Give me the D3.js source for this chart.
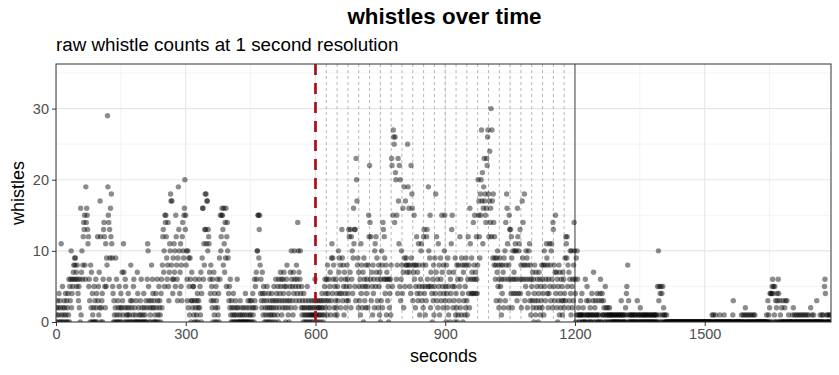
<!DOCTYPE html>
<html><head><meta charset="utf-8">
<script src="https://cdn.jsdelivr.net/npm/d3@7"></script>
<style>
html,body{margin:0;padding:0;background:#fff;}
svg text{font-family:"Liberation Sans",Arial,Helvetica,sans-serif;}
</style></head><body>
<svg id="chart" width="839" height="375"></svg>
<script>
const titleText = "whistles over time";
const subtitleText = "raw whistle counts at 1 second resolution";
const xLabel = "seconds";
const yLabel = "whistles";
const xTicks = [0, 300, 600, 900, 1200, 1500];
const xMinor = [150, 450, 750, 1050, 1350, 1650];
const yTicks = [0, 10, 20, 30];
const yMinor = [5, 15, 25, 35];
const windowLines = [625, 650, 675, 700, 725, 750, 775, 800, 825, 850, 875, 900, 925, 950, 975, 1000, 1025, 1050, 1075, 1100, 1125, 1150, 1175];
const startLine = 600;
const endLine = 1200;
const xMax = 1792;
const yMax = 36.27;
// whistle counts, one base-36 character per second, 30 seconds per row
const whistleRows = [
"021302140320b10520132041032041",
"60536a246578698967586435260g17",
"a68cedf86jegfdbc56308270410250",
"306240c35172hc023406dec52b598t",
"jfe6d9gcib95403102906103205102",
"402731b70265012014021038023015",
"602013007402100316020104201030",
"26ba53021038264023010420631052",
"3104628cd7a5fefc968e537baih8h6",
"496b7a5fc8639jda47b583cea9fgkd",
"f8a63a295196037325510362013402",
"362517049gg6b8didibhhadcb76483",
"52603714025306214096facfgfd8gb",
"7e9g5cea9435261032014021030126",
"020100310201002010402100302103",
"103204120635276aaff9df84632741",
"530421035201402310241302513062",
"431506234756132647532056832140",
"3572a635174a6253864ea5736a4251",
"320412031025103210213012013216",
"130213201231023412031562436184",
"36257139b49682513624153a794826",
"4d938517462538643dc57d2c6a49gb",
"d5d3nkh89275361b48257096352846",
"528fcme6c37518462ab5c793628517",
"063a82ed6c9468176350624618nm5f",
"rqpeqlk6f84nhbm5k36a84g72j95h8",
"987pj8g7584m9ig387f68258c473b8",
"5146ab3582cd45183cd65ja59f2754",
"06381594i7c362b5814963f75284af",
"35084295173064bdf5273509142806",
"1835c261984073815298316c482gb6",
"49746e48f674c648kfhc9ifkrhlbgj",
"nhifegnmqrichoegucrh9ie8c96839",
"7a5826935816487296a3e8igb628fd",
"6d4c926a476ab4a63gc4ab6d4826h9",
"e86i385a69284a6b38165372604831",
"7256304726153826481a5836b94826",
"4b583ab62ed5837f47260538174263",
"517362493cb9c582736a41a52638ea",
"64091a612010131140021100601351",
"103012100411370120311401030146",
"030411320150211020112010110010",
"011000110010100113001100100214",
"508130010100110001010100301100",
"120011000110010100101001010010",
"1001010101050a3514050415021010",
"001000000000000000000000000000",
"000000000000000000000000000000",
"000000000000000000000000000000",
"000000000000000001001000010000",
"000001000000000100000000000000",
"000001300000000000000000010001",
"000120010001000100010001001000",
"000000000000000000000001003010",
"240404564501503024306400310020",
"030002030030001000000001020010",
"001000100010001000100010001000",
"100002001000100000030000000100",
"01001005640010010010010"
];
const whistles = whistleRows.join("").split("").map(c => parseInt(c, 36));
const seconds = whistles.map((_, i) => i);
const points = seconds.map((s, i) => ({ s: s, w: whistles[i] }));

const W = 839, H = 375;
const panel = { left: 56, right: 831, top: 64, bottom: 322 };
const svg = d3.select("#chart");

const x = d3.scaleLinear().domain([0, xMax]).range([panel.left, panel.right]);
const y = d3.scaleLinear().domain([0, yMax]).range([panel.bottom, panel.top]);

svg.append("rect").attr("width", W).attr("height", H).attr("fill", "#fff");

svg.append("defs").append("clipPath").attr("id", "pclip")
  .append("rect").attr("x", panel.left).attr("y", panel.top)
  .attr("width", panel.right - panel.left).attr("height", panel.bottom - panel.top);

const g = svg.append("g").attr("clip-path", "url(#pclip)");

// grid
g.selectAll(".xminor").data(xMinor).join("line")
  .attr("x1", d => x(d)).attr("x2", d => x(d)).attr("y1", panel.top).attr("y2", panel.bottom)
  .attr("stroke", "#ebebeb").attr("stroke-width", 0.6);
g.selectAll(".yminor").data(yMinor).join("line")
  .attr("y1", d => y(d)).attr("y2", d => y(d)).attr("x1", panel.left).attr("x2", panel.right)
  .attr("stroke", "#ebebeb").attr("stroke-width", 0.6);
g.selectAll(".xmajor").data(xTicks).join("line")
  .attr("x1", d => x(d)).attr("x2", d => x(d)).attr("y1", panel.top).attr("y2", panel.bottom)
  .attr("stroke", "#e6e6e6").attr("stroke-width", 1.1);
g.selectAll(".ymajor").data(yTicks).join("line")
  .attr("y1", d => y(d)).attr("y2", d => y(d)).attr("x1", panel.left).attr("x2", panel.right)
  .attr("stroke", "#e6e6e6").attr("stroke-width", 1.1);

// window lines
g.selectAll(".win").data(windowLines).join("line")
  .attr("x1", d => x(d)).attr("x2", d => x(d)).attr("y1", panel.top).attr("y2", panel.bottom)
  .attr("stroke", "#9a9a9a").attr("stroke-width", 0.7).attr("stroke-dasharray", "3,3");
g.append("line")
  .attr("x1", x(endLine)).attr("x2", x(endLine)).attr("y1", panel.top).attr("y2", panel.bottom)
  .attr("stroke", "#555").attr("stroke-width", 1.1);

// points
g.selectAll(".pt").data(points).join("circle")
  .attr("cx", d => x(d.s)).attr("cy", d => y(d.w)).attr("r", 2.7)
  .attr("fill", "#000").attr("fill-opacity", 0.45);

// start line
g.append("line")
  .attr("x1", x(startLine)).attr("x2", x(startLine)).attr("y1", panel.top).attr("y2", panel.bottom)
  .attr("stroke", "#a3111a").attr("stroke-width", 2.7).attr("stroke-dasharray", "11,8");

// border
svg.append("rect").attr("x", panel.left).attr("y", panel.top)
  .attr("width", panel.right - panel.left).attr("height", panel.bottom - panel.top)
  .attr("fill", "none").attr("stroke", "#333").attr("stroke-width", 1);

// axes
const xAxis = d3.axisBottom(x).tickValues(xTicks).tickSize(4).tickPadding(3).tickFormat(d3.format("d"));
const yAxis = d3.axisLeft(y).tickValues(yTicks).tickSize(4).tickPadding(3).tickFormat(d3.format("d"));
const gx = svg.append("g").attr("transform", `translate(0,${panel.bottom})`).call(xAxis);
const gy = svg.append("g").attr("transform", `translate(${panel.left},0)`).call(yAxis);
[gx, gy].forEach(a => {
  a.select(".domain").remove();
  a.selectAll(".tick line").attr("stroke", "#333").attr("stroke-width", 1);
  a.selectAll(".tick text").attr("fill", "#4d4d4d").style("font-size", "14.5px")
    .style("font-family", "'Liberation Sans',Arial,sans-serif");
});

svg.append("text").attr("x", (panel.left + panel.right) / 2 + 1).attr("y", 24)
  .attr("text-anchor", "middle").style("font-size", "22.4px").style("font-weight", "bold")
  .attr("fill", "#000").text(titleText);
svg.append("text").attr("x", panel.left).attr("y", 51)
  .style("font-size", "18.8px").attr("fill", "#000").text(subtitleText);
svg.append("text").attr("x", (panel.left + panel.right) / 2).attr("y", 362)
  .attr("text-anchor", "middle").style("font-size", "18px").attr("fill", "#000").text(xLabel);
svg.append("text").attr("transform", `translate(24,${(panel.top + panel.bottom) / 2}) rotate(-90)`)
  .attr("text-anchor", "middle").style("font-size", "18px").attr("fill", "#000").text(yLabel);
</script>
</body></html>
